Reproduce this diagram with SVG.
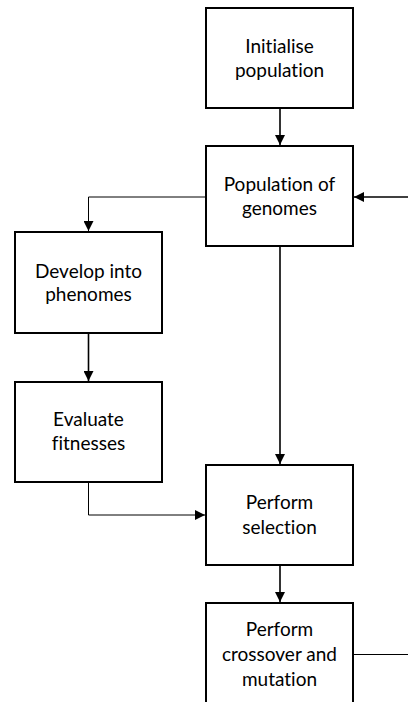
<svg xmlns="http://www.w3.org/2000/svg" width="408" height="702" viewBox="0 0 408 702">
  <style>
    .box { fill: #ffffff; stroke: #000000; stroke-width: 2; }
    .lbl { font-family: Lato, "Open Sans", sans-serif; font-size: 19px; fill: #000000; text-anchor: middle; font-variant-ligatures: none; font-feature-settings: "liga" 0, "dlig" 0; }
    .thick { fill: none; stroke: #000000; stroke-width: 1.6; }
    .thin { fill: none; stroke: #000000; stroke-width: 1; }
  </style>
  <defs>
    <marker id="arrow" viewBox="0 0 10 10" refX="10" refY="5" markerWidth="10" markerHeight="10" markerUnits="userSpaceOnUse" orient="auto">
      <path d="M0,0 L10,5 L0,10 Z" fill="#000000"/>
    </marker>
  </defs>
  <rect width="408" height="702" fill="#ffffff"/>

  <g id="connectors">
    <line class="thick" x1="280" y1="108" x2="280" y2="145" marker-end="url(#arrow)"/>
    <line class="thick" x1="408" y1="197" x2="354" y2="197" marker-end="url(#arrow)"/>
    <polyline class="thin" points="206,197 88.5,197 88.5,231" marker-end="url(#arrow)"/>
    <line class="thick" x1="88.5" y1="333" x2="88.5" y2="381" marker-end="url(#arrow)"/>
    <polyline class="thin" points="88.5,482 88.5,515 205,515" marker-end="url(#arrow)"/>
    <line class="thick" x1="280" y1="246" x2="280" y2="464" marker-end="url(#arrow)"/>
    <line class="thick" x1="280" y1="565" x2="280" y2="602" marker-end="url(#arrow)"/>
    <line class="thin" x1="353" y1="654.5" x2="408" y2="654.5"/>
  </g>

  <g id="initialise">
    <rect class="box" x="206" y="8" width="147" height="100"/>
    <text class="lbl" x="279.5" y="53">Initialise</text>
    <text class="lbl" x="279.5" y="77">population</text>
  </g>
  <g id="population">
    <rect class="box" x="206" y="146" width="147" height="100"/>
    <text class="lbl" x="279.5" y="191">Population of</text>
    <text class="lbl" x="279.5" y="215">genomes</text>
  </g>
  <g id="develop">
    <rect class="box" x="15" y="232" width="147" height="101"/>
    <text class="lbl" x="88.5" y="278">Develop into</text>
    <text class="lbl" x="88.5" y="301">phenomes</text>
  </g>
  <g id="evaluate">
    <rect class="box" x="15" y="382" width="147" height="100"/>
    <text class="lbl" x="88.5" y="426">Evaluate</text>
    <text class="lbl" x="88.5" y="450">fitnesses</text>
  </g>
  <g id="selection">
    <rect class="box" x="206" y="465" width="147" height="100"/>
    <text class="lbl" x="279.5" y="509">Perform</text>
    <text class="lbl" x="279.5" y="534">selection</text>
  </g>
  <g id="crossover">
    <rect class="box" x="206" y="603" width="147" height="110"/>
    <text class="lbl" x="279.5" y="636">Perform</text>
    <text class="lbl" x="279.5" y="661">crossover and</text>
    <text class="lbl" x="279.5" y="686">mutation</text>
  </g>
</svg>
